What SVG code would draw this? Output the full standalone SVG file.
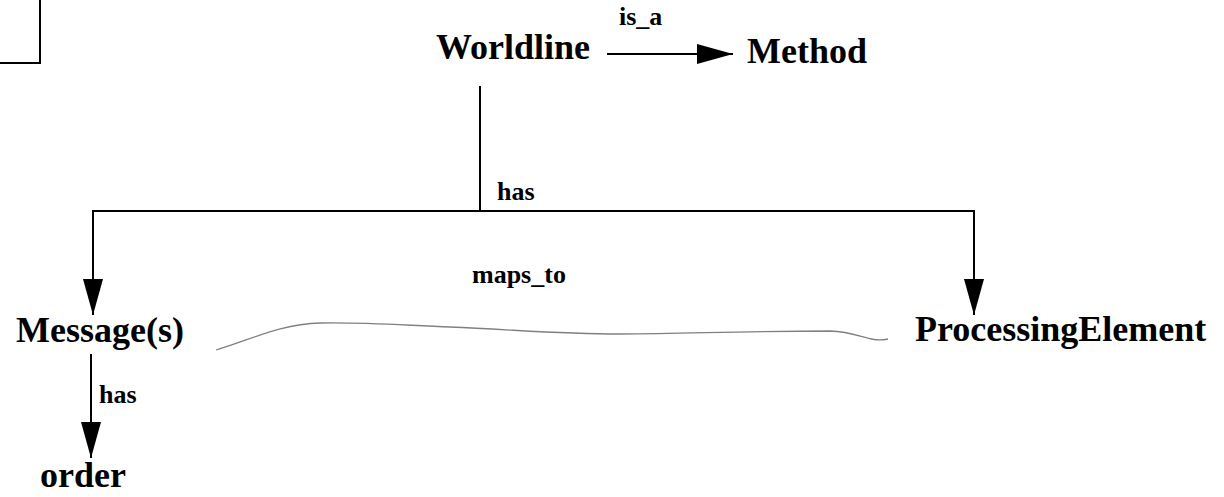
<svg xmlns="http://www.w3.org/2000/svg" width="1224" height="497" viewBox="0 0 1224 497">
  <style>
    .node { font-family: "Liberation Serif", "Times New Roman", serif; font-weight: bold; font-size: 36px; fill: #000; }
    .lbl { font-family: "Liberation Serif", "Times New Roman", serif; font-weight: bold; font-size: 26px; fill: #000; }
    .conn { fill: none; stroke: #000; stroke-width: 2; }
    .soft { fill: none; stroke: #808080; stroke-width: 1.3; }
  </style>
  <defs>
    <marker id="arrow" viewBox="0 0 36 20" markerWidth="36" markerHeight="20" refX="36" refY="10" orient="auto" markerUnits="userSpaceOnUse">
      <path d="M0,0 L36,10 L0,20 z" fill="#000"/>
    </marker>
  </defs>
  <rect width="1224" height="497" fill="#fff"/>
  <g id="frame-corner">
    <path class="conn" d="M40,0 V64 M0,63 H41"/>
  </g>
  <g id="connectors">
    <line class="conn" x1="607" y1="54" x2="733" y2="54" marker-end="url(#arrow)"/>
    <path class="conn" d="M480,86 V211 H93 V315" marker-end="url(#arrow)"/>
    <path class="conn" d="M480,211 H974 V315" marker-end="url(#arrow)"/>
    <path class="conn" d="M91,354 V458" marker-end="url(#arrow)"/>
    <path class="soft" d="M216,350 C250,340 280,324 320,323 C360,322 400,325 450,327 C520,330 560,334 620,334 C700,333 760,331 830,331 C860,332 868,343 888,339"/>
    <text class="lbl" x="619" y="25">is_a</text>
    <text class="lbl" x="497" y="200">has</text>
    <text class="lbl" x="472" y="283">maps_to</text>
    <text class="lbl" x="99" y="403">has</text>
  </g>
  <g id="node-worldline"><text class="node" x="436" y="59">Worldline</text></g>
  <g id="node-method"><text class="node" x="747" y="63">Method</text></g>
  <g id="node-messages"><text class="node" x="16" y="342">Message(s)</text></g>
  <g id="node-processingelement"><text class="node" x="915" y="341">ProcessingElement</text></g>
  <g id="node-order"><text class="node" x="40" y="487">order</text></g>
</svg>
